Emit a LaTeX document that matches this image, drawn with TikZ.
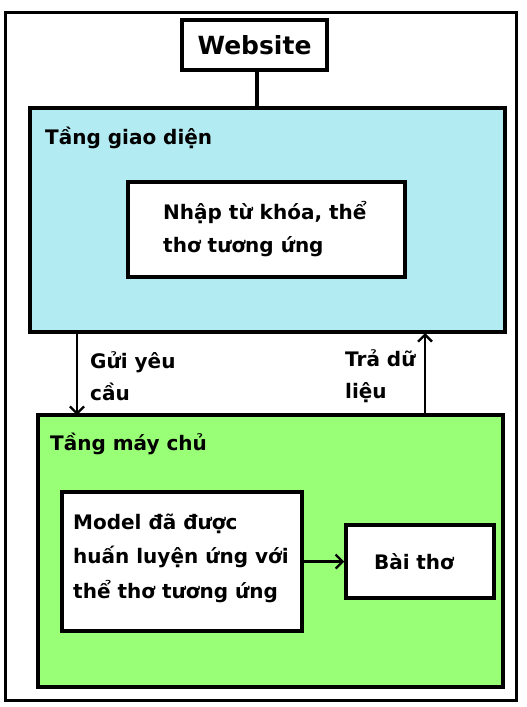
\documentclass[tikz,border=0pt]{standalone}
\usepackage{fontspec}
\setmainfont{DejaVu Sans}
\usetikzlibrary{arrows.meta}
\definecolor{bluefill}{RGB}{179,235,242}
\definecolor{greenfill}{RGB}{153,255,119}
\tikzset{
  frame/.style={draw=black, line width=3.5pt},
  box/.style={draw=black, line width=3.5pt, fill=white},
  lbl/.style={font=\bfseries\fontsize{20}{33}\selectfont, align=left, inner sep=0pt, anchor=base west},
  conn/.style={line width=2.3pt, -{Straight Barb[length=7pt,width=14pt,line width=2.3pt]}},
}
\begin{document}
\begin{tikzpicture}[x=1pt,y=-1pt]
\useasboundingbox (0,0) rectangle (527,707);
\draw[frame] (5.5,12.5) rectangle (516.5,700.5);
% Website
\node[box, minimum width=145pt, minimum height=50pt, font=\bfseries\fontsize{25}{30}\selectfont] (web) at (254.5,45) {Website};
% blue layer
\draw[frame, fill=bluefill] (30,108) rectangle (505,332);
\coordinate (blueTop) at (257,108);
\node[lbl] (t1) at (45,144) {Tầng giao diện};
\node[box, minimum width=277pt, minimum height=95pt] (inp) at (266.5,229.5) {};
\node[lbl] (inptext) at (163,252) {Nhập từ khóa, thể\\thơ tương ứng};
% green layer
\draw[frame, fill=greenfill] (38,415) rectangle (503,687);
\node[lbl] (t2) at (50,450) {Tầng máy chủ};
\node[box, minimum width=240pt, minimum height=139pt] (model) at (182,561.5) {};
\node[lbl, font=\bfseries\fontsize{20}{34.5}\selectfont] (modeltext) at (73,598) {Model đã được\\huấn luyện ứng với\\thể thơ tương ứng};
\node[box, minimum width=148pt, minimum height=73pt, font=\bfseries\fontsize{20}{33}\selectfont, text width=128pt, align=center, inner xsep=0pt] (poem) at (420,561.5) {\hspace*{-12pt}Bài thơ};
% connectors
\draw[line width=3.5pt] (blueTop |- web.south) -- (blueTop);
\coordinate (a1) at (77,333);
\coordinate (a1e) at (77,415);
\coordinate (a2) at (425,415);
\coordinate (a2e) at (425,333);
\draw[conn] (a1) -- (a1e);
\draw[conn] (a2) -- (a2e);
\draw[conn] (model.east) -- (poem.west);
\node[lbl, font=\bfseries\fontsize{20}{32}\selectfont] (send) at (90,400) {Gửi yêu\\cầu};
\node[lbl, font=\bfseries\fontsize{20}{32}\selectfont] (ret) at (345,398.5) {Trả dữ\\liệu};
\end{tikzpicture}
\end{document}
